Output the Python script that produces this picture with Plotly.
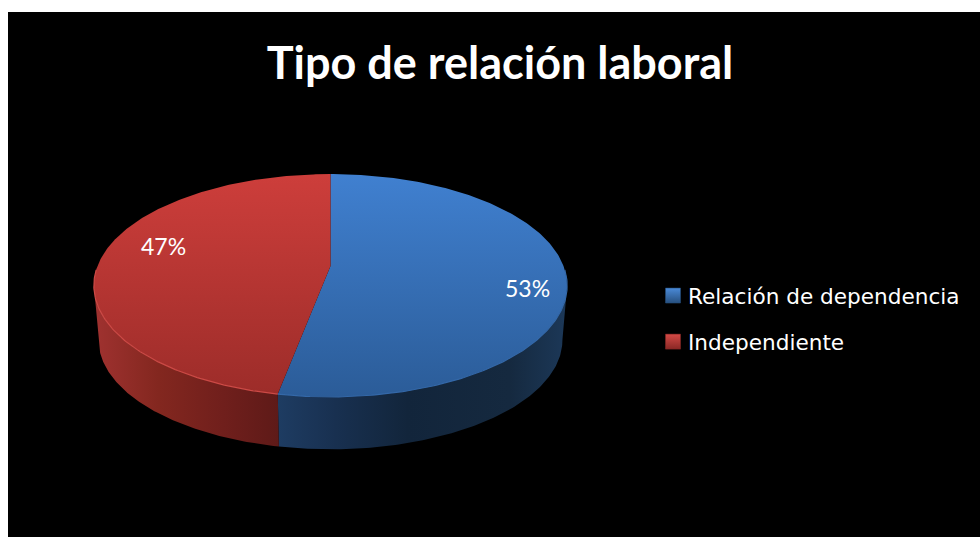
import numpy as np
import plotly.graph_objects as go

# --- data ---
categories = ["Relación de dependencia", "Independiente"]
values = [53, 47]
title_text = "Tipo de relación laboral"

# --- styles ---
face_scales = [[[0, "#4080d0"], [1, "#2b5c98"]], [[0, "#cd3e3b"], [1, "#9c2c29"]]]
wall_scales = [
    [[0, "#1e3c62"], [0.2, "#183050"], [0.45, "#12253b"], [0.8, "#15293f"], [1, "#1c3858"]],
    [[0, "#a03230"], [0.35, "#83271f"], [0.7, "#701f1c"], [1, "#5e1a18"]],
]
rim_colors = ["#3468a8", "#cc4a46"]
marker_colors = ["#4a8ad8", "#d44a46"]
marker_lines = ["#27507f", "#8a2825"]
label_pos = [(527, 288), (163, 246)]

# perspective ellipse model (pixel-based axes)
CX, CY, A, B, K = 330.5, 266.0, 233.0, 108.0, 0.175
WALL_DROP, WALL_SCALE = 55.0, 0.98
VIS = np.degrees(np.arccos(-K))  # angle at which the wall silhouette is tangent


def rim(deg, drop=0.0, s=1.0):
    t = np.radians(deg)
    X, Y = np.sin(t), np.cos(t)
    w = 1 + K * Y
    return CX + s * A * X / w, CY + drop - s * B * Y / w


fig = go.Figure()
total = sum(values)
edges = np.cumsum([0] + values) / total * 360

# walls
for i in range(len(values)):
    a0 = max(edges[i], VIS)
    a1 = min(edges[i + 1], 360 - VIS)
    th = np.linspace(a0, a1, 120)
    xt, yt = rim(th)
    xb, yb = rim(th[::-1], WALL_DROP, WALL_SCALE)
    xs = np.r_[xt, xb, xt[0]]
    ys = np.r_[yt, yb, yt[0]]
    fig.add_trace(go.Scatter(
        x=xs, y=ys, mode="lines", line=dict(width=0), fill="toself", hoverinfo="skip", showlegend=False,
        fillgradient=dict(type="horizontal", colorscale=wall_scales[i],
                          start=float(xs.min()), stop=float(xs.max())),
    ))

# top faces
top_y, bot_y = rim(0.0)[1], rim(180.0)[1]
for i in range(len(values)):
    th = np.linspace(edges[i], edges[i + 1], 240)
    xt, yt = rim(th)
    xs = np.r_[CX, xt, CX]
    ys = np.r_[CY, yt, CY]
    fig.add_trace(go.Scatter(
        x=xs, y=ys, mode="lines", line=dict(width=0), fill="toself", hoverinfo="skip", showlegend=False,
        fillgradient=dict(type="vertical", colorscale=face_scales[i],
                          start=float(top_y), stop=float(bot_y)),
    ))

# light rim along the front edge
for i in range(len(values)):
    th = np.linspace(max(edges[i], VIS - 8), min(edges[i + 1], 360 - VIS + 8), 120)
    xt, yt = rim(th)
    fig.add_trace(go.Scatter(x=xt, y=yt, mode="lines", hoverinfo="skip", showlegend=False,
                             line=dict(color=rim_colors[i], width=1.2)))

# legend entries
for i, name in enumerate(categories):
    fig.add_trace(go.Scatter(
        x=[None], y=[None], mode="markers", name=name, legendgroup=name,
        marker=dict(symbol="square", size=15, color=marker_colors[i],
                    gradient=dict(type="vertical", color=marker_lines[i]),
                    line=dict(color=marker_lines[i], width=0.5)),
    ))

# percentage labels
for v, (lx, ly) in zip(values, label_pos):
    fig.add_annotation(x=lx, y=ly, xref="x", yref="y", text=f"{round(v / total * 100)}%", showarrow=False,
                       font=dict(family="Lato", size=23, color="white"))

fig.update_layout(
    width=980, height=537, autosize=False,
    margin=dict(l=8, r=0, t=12, b=0),
    paper_bgcolor="white", plot_bgcolor="black",
    title=dict(text=f"<b>{title_text}</b>", x=500 / 980, y=1 - 63 / 537, xref="container", yref="container",
               xanchor="center", yanchor="middle",
               font=dict(family="Lato", size=45, color="white")),
    legend=dict(x=(648 - 8) / 972, y=1 - (275 - 12) / 525, xanchor="left", yanchor="top",
                tracegroupgap=15, bgcolor="rgba(0,0,0,0)",
                font=dict(family="DejaVu Sans", size=21.6, color="white")),
    xaxis=dict(range=[8, 980], visible=False, fixedrange=True),
    yaxis=dict(range=[537, 12], visible=False, fixedrange=True),
)
nudge = "document.body.style.margin='0';document.querySelectorAll('g.legendpoints').forEach(g=>g.setAttribute('transform','translate(5,0)'));"
fig.write_html("out.html", post_script=nudge, config=dict(displayModeBar=False))
